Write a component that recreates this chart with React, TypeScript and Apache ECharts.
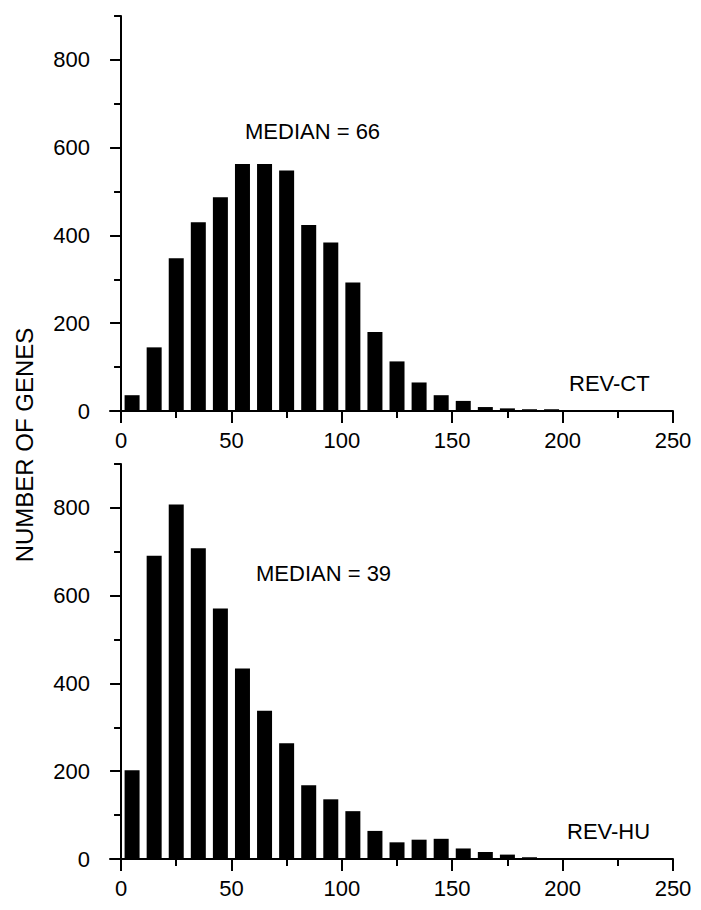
import React, { useEffect, useRef } from "react";
import * as echarts from "echarts";

const binCenters = [5, 15, 25, 35, 45, 55, 65, 75, 85, 95, 105, 115, 125, 135, 145, 155, 165, 175, 185, 195, 205, 215, 225, 235, 245];
const ctCounts = [36, 145, 348, 430, 487, 563, 563, 548, 424, 384, 293, 180, 113, 65, 36, 23, 9, 6, 4, 4, 0, 2, 0, 2, 0];
const huCounts = [202, 691, 808, 708, 571, 434, 338, 264, 168, 136, 109, 64, 38, 44, 46, 24, 16, 10, 4, 2, 2, 0, 1, 0, 0];

const xLabelValues = [0, 50, 100, 150, 200, 250];
const xMinorValues = [25, 75, 125, 175, 225];
const yLabelValues = [0, 200, 400, 600, 800];
const yMinorValues = [100, 300, 500, 700, 900];

const panelNames = ["REV-CT", "REV-HU"];
const medianTexts = ["MEDIAN = 66", "MEDIAN = 39"];
const yTitle = "NUMBER OF GENES";

const FONT = "'Liberation Sans', Arial, Helvetica, sans-serif";

export default function App() {
  const ref = useRef<HTMLDivElement>(null);

  useEffect(() => {
    document.body.style.margin = "0";
    const chart = echarts.init(ref.current as HTMLDivElement, null, { renderer: "svg" });

    const grids = [
      { left: 110, top: 16, width: 563, height: 395 },
      { left: 110, top: 464, width: 563, height: 395 },
    ];
    const lineStyle = { color: "#000", width: 2 };
    const labelStyle = { fontSize: 22, color: "#000", fontFamily: FONT };

    const xAxes: any[] = [];
    const yAxes: any[] = [];
    grids.forEach((_, i) => {
      xAxes.push({
        type: "value", gridIndex: i, min: -5, max: 250, position: "bottom",
        axisLine: { show: true, lineStyle },
        splitLine: { show: false },
        axisTick: { show: true, length: 12, lineStyle, customValues: xLabelValues },
        axisLabel: { show: true, customValues: xLabelValues, margin: 18, ...labelStyle },
      });
      xAxes.push({
        type: "value", gridIndex: i, min: -5, max: 250, position: "bottom",
        axisLine: { show: false },
        splitLine: { show: false },
        axisTick: { show: true, length: 7, lineStyle, customValues: xMinorValues },
        axisLabel: { show: false },
      });
      yAxes.push({
        type: "value", gridIndex: i, min: 0, max: 900, position: "left",
        axisLine: { show: true, lineStyle },
        splitLine: { show: false },
        axisTick: { show: true, length: 11, lineStyle, customValues: yLabelValues },
        axisLabel: { show: true, customValues: yLabelValues, margin: 20, ...labelStyle },
      });
      yAxes.push({
        type: "value", gridIndex: i, min: 0, max: 900, position: "left",
        axisLine: { show: false },
        splitLine: { show: false },
        axisTick: { show: true, length: 7, lineStyle, customValues: yMinorValues },
        axisLabel: { show: false },
      });
    });

    const makeSeries = (counts: number[], idx: number) => ({
      type: "bar",
      xAxisIndex: idx * 2,
      yAxisIndex: idx * 2,
      barWidth: 15,
      itemStyle: { color: "#000" },
      data: binCenters.map((c, j) => [c, counts[j]]),
    });

    const textStyle = (t: string) => ({ text: t, fontSize: 22, fontFamily: FONT, fill: "#000", verticalAlign: "top" });

    chart.setOption({
      animation: false,
      backgroundColor: "#fff",
      grid: grids.map((g) => ({ ...g, containLabel: false, outerBoundsMode: "none" })),
      xAxis: xAxes,
      yAxis: yAxes,
      series: [makeSeries(ctCounts, 0), makeSeries(huCounts, 1)],
      graphic: [
        { type: "text", x: 245, y: 120, style: textStyle(medianTexts[0]) },
        { type: "text", x: 256, y: 562, style: textStyle(medianTexts[1]) },
        { type: "text", x: 569, y: 372, style: textStyle(panelNames[0]) },
        { type: "text", x: 567, y: 820, style: textStyle(panelNames[1]) },
        {
          type: "text", x: 24, y: 445, rotation: Math.PI / 2,
          style: { text: yTitle, fontSize: 24, fontFamily: FONT, fill: "#000", align: "center", verticalAlign: "middle" },
        },
      ],
    });

    return () => chart.dispose();
  }, []);

  return <div ref={ref} style={{ position: "absolute", left: 0, top: 0, width: 701, height: 910 }} />;
}
